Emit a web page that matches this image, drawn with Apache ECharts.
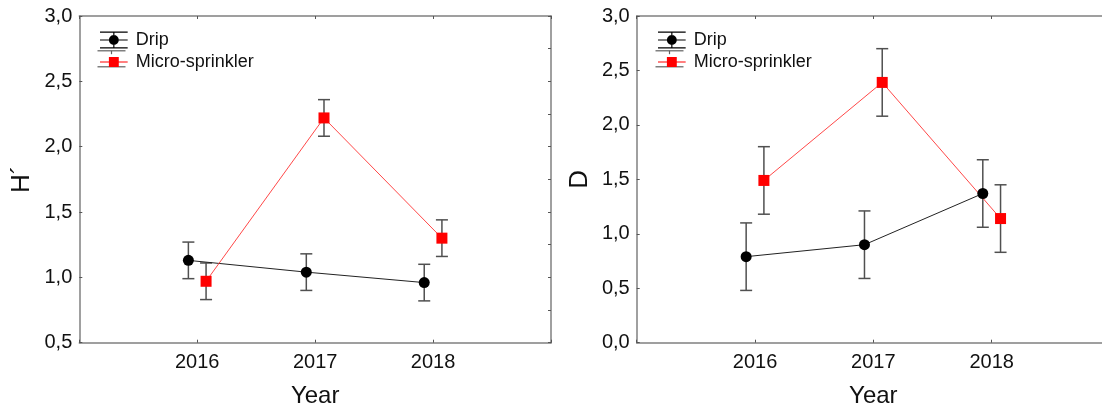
<!DOCTYPE html>
<html>
<head>
<meta charset="utf-8">
<script src="https://cdn.jsdelivr.net/npm/echarts@6/dist/echarts.min.js"></script>
<style>
html,body{margin:0;padding:0;background:#fff;}
#chart{width:1102px;height:407px;}
</style>
</head>
<body>
<div id="chart"></div>
<script>
// ---- data ----
const years = [2016, 2017, 2018];
const seriesNames = ['Drip', 'Micro-sprinkler'];
// Left panel: H´
const dripH = [1.13, 1.04, 0.96];
const dripHErr = [0.14, 0.14, 0.14];
const microH = [0.97, 2.22, 1.30];
const microHErr = [0.14, 0.14, 0.14];
// Right panel: D
const dripD = [0.79, 0.90, 1.37];
const dripDErr = [0.31, 0.31, 0.31];
const microD = [1.49, 2.39, 1.14];
const microDErr = [0.31, 0.31, 0.31];
const yTicksLeft = [0.5, 1.0, 1.5, 2.0, 2.5, 3.0];
const yTicksRight = [0.0, 0.5, 1.0, 1.5, 2.0, 2.5, 3.0];
const xTickLabels = ['2016', '2017', '2018'];

// ---- styling ----
const FONT = '"Liberation Sans", Arial, sans-serif';
const AX = '#808080';
const ERR = '#505050';
const OFF = 0.075;

function fmtComma(v){ return v.toFixed(1).replace('.', ','); }

function pts(vals, off){ return years.map((y,i)=>[y+off, vals[i]]); }
function errs(vals, e, off){ return years.map((y,i)=>[y+off, vals[i]-e[i], vals[i]+e[i]]); }

function errSeries(data, xi, yi, color){
  return {
    type:'custom', xAxisIndex:xi, yAxisIndex:yi, z:2, silent:true,
    data:data,
    renderItem:function(params, api){
      const x = api.value(0), lo = api.value(1), hi = api.value(2);
      const p1 = api.coord([x, hi]), p2 = api.coord([x, lo]);
      const w = 6;
      const st = {stroke:color, lineWidth:1.5};
      return {type:'group', children:[
        {type:'line', shape:{x1:p1[0], y1:p1[1], x2:p2[0], y2:p2[1]}, style:st},
        {type:'line', shape:{x1:p1[0]-w, y1:p1[1], x2:p1[0]+w, y2:p1[1]}, style:st},
        {type:'line', shape:{x1:p2[0]-w, y1:p2[1], x2:p2[0]+w, y2:p2[1]}, style:st}
      ]};
    }
  };
}

const iconDrip = 'path://M0 0H28V1.2H0Z M0 8H28V9.2H0Z M0 16H28V17.2H0Z M13.4 0H14.6V17.2H13.4Z M9 8.6A5 5 0 1 1 19 8.6A5 5 0 1 1 9 8.6Z';
// micro icon: tiny corner dots keep the frame, caps drawn gray via graphic
const iconMicro = 'path://M0 0H0.01V0.01H0Z M0 17.19H0.01V17.2H0Z M0 8H28V9.2H0Z M9 3.6H19V13.6H9Z';

function lineSeries(name, data, xi, yi, color, lineColor, symbol){
  return {
    name:name, type:'line', xAxisIndex:xi, yAxisIndex:yi, z:3,
    data:data, symbol:symbol, symbolSize:11,
    lineStyle:{color:lineColor, width:1},
    itemStyle:{color:color, borderWidth:0},
    emphasis:{disabled:true}, animation:false
  };
}

function xAxes(gi){
  return [
    {type:'value', gridIndex:gi, min:2015, max:2019, interval:1, position:'bottom',
     axisLine:{show:true, lineStyle:{color:AX, width:1.5}},
     axisTick:{show:true, inside:true, length:3, lineStyle:{color:'#555'}},
     axisLabel:{margin:10, fontSize:20, fontFamily:FONT, color:'#111',
       formatter:function(v){ const i = years.indexOf(v); return i>=0 ? xTickLabels[i] : ''; }},
     splitLine:{show:false},
     name:'Year', nameLocation:'middle', nameGap:42,
     nameTextStyle:{fontSize:24, fontFamily:FONT, color:'#111'}},
    {type:'value', gridIndex:gi, min:2015, max:2019, interval:1, position:'top',
     axisLine:{show:true, lineStyle:{color:AX, width:1.5}},
     axisTick:{show:true, inside:true, length:3, lineStyle:{color:'#555'}},
     axisLabel:{show:false}, splitLine:{show:false}}
  ];
}

// gray error-bar glyph for the Micro-sprinkler legend entries
function legendCaps(x, y){
  const st = {stroke:'#606060', lineWidth:1.2};
  return {type:'group', left:x, top:y, silent:true, z:10, children:[
    {type:'line', shape:{x1:0, y1:0.6, x2:28, y2:0.6}, style:st},
    {type:'line', shape:{x1:0, y1:16.6, x2:28, y2:16.6}, style:st},
    {type:'line', shape:{x1:14, y1:0.6, x2:14, y2:4}, style:st},
    {type:'line', shape:{x1:14, y1:13.2, x2:14, y2:16.6}, style:st}
  ]};
}

const option = {
  backgroundColor:'#fff',
  animation:false,
  grid:[
    {left:79.3, right:551, top:16, bottom:64.3, show:false, containLabel:false, outerBoundsMode:'none'},
    {left:636.7, right:-8, top:16, bottom:64.3, show:false, containLabel:false, outerBoundsMode:'none'}
  ],
  xAxis:[...xAxes(0), ...xAxes(1)],
  yAxis:[
    {type:'value', gridIndex:0, min:yTicksLeft[0], max:yTicksLeft[yTicksLeft.length-1], interval:0.5,
     axisLine:{show:true, lineStyle:{color:AX, width:1.5}},
     axisTick:{show:true, inside:true, length:3, lineStyle:{color:'#555'}},
     axisLabel:{margin:7, fontSize:20, fontFamily:FONT, color:'#111', formatter:fmtComma},
     splitLine:{show:false},
     name:'H\u00B4', nameLocation:'middle', nameGap:44,
     nameTextStyle:{fontSize:26, fontFamily:FONT, color:'#111'}},
    {type:'value', gridIndex:0, min:0.5, max:3.0, interval:0.25, position:'right',
     axisLine:{show:true, lineStyle:{color:AX, width:1.5}},
     axisTick:{show:true, inside:true, length:3, lineStyle:{color:'#555'}},
     axisLabel:{show:false}, splitLine:{show:false}},
    {type:'value', gridIndex:1, min:yTicksRight[0], max:yTicksRight[yTicksRight.length-1], interval:0.5,
     axisLine:{show:true, lineStyle:{color:AX, width:1.5}},
     axisTick:{show:true, inside:true, length:3, lineStyle:{color:'#555'}},
     axisLabel:{margin:7, fontSize:20, fontFamily:FONT, color:'#111', formatter:fmtComma},
     splitLine:{show:false},
     name:'D', nameLocation:'middle', nameGap:44,
     nameTextStyle:{fontSize:26, fontFamily:FONT, color:'#111'}}
  ],
  legend:[
    {left:95, top:26, orient:'vertical', itemWidth:28, itemHeight:17, itemGap:4,
     selectedMode:false,
     textStyle:{fontSize:18, fontFamily:FONT, color:'#111', lineHeight:18, padding:[0,0,0,3]},
     data:[{name:seriesNames[0], icon:iconDrip},{name:seriesNames[1], icon:iconMicro}]},
    {left:653, top:26, orient:'vertical', itemWidth:28, itemHeight:17, itemGap:4,
     selectedMode:false,
     textStyle:{fontSize:18, fontFamily:FONT, color:'#111', lineHeight:18, padding:[0,0,0,3]},
     data:[{name:seriesNames[0], icon:iconDrip},{name:seriesNames[1], icon:iconMicro}]}
  ],
  graphic:[ legendCaps(95, 48.3), legendCaps(653, 48.3) ],
  series:[
    errSeries(errs(dripH, dripHErr, -OFF), 0, 0, ERR),
    errSeries(errs(microH, microHErr, OFF), 0, 0, ERR),
    lineSeries(seriesNames[0], pts(dripH, -OFF), 0, 0, '#000', '#222', 'circle'),
    lineSeries(seriesNames[1], pts(microH, OFF), 0, 0, '#ff0000', '#ff4848', 'rect'),
    errSeries(errs(dripD, dripDErr, -OFF), 2, 2, ERR),
    errSeries(errs(microD, microDErr, OFF), 2, 2, ERR),
    lineSeries(seriesNames[0], pts(dripD, -OFF), 2, 2, '#000', '#222', 'circle'),
    lineSeries(seriesNames[1], pts(microD, OFF), 2, 2, '#ff0000', '#ff4848', 'rect')
  ]
};

const chart = echarts.init(document.getElementById('chart'), null, {renderer:'canvas'});
chart.setOption(option);
</script>
</body>
</html>
